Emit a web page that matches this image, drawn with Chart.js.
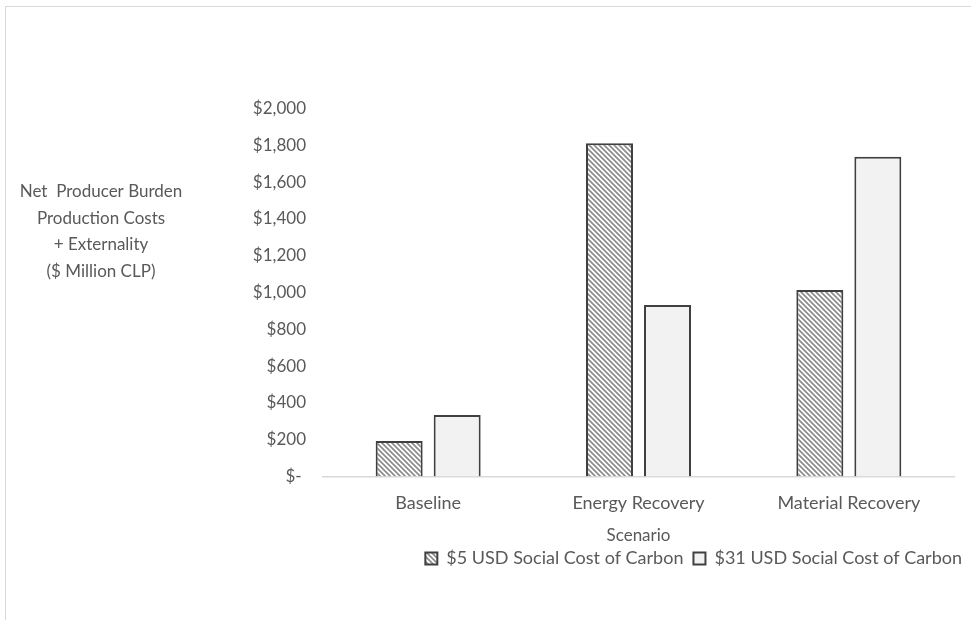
<!DOCTYPE html>
<html>
<head>
<meta charset="utf-8">
<script src="https://cdn.jsdelivr.net/npm/chart.js@4.4.0/dist/chart.umd.min.js"></script>
<style>
  html, body { margin: 0; padding: 0; background: #fff; overflow: hidden; }
  #frame { position: absolute; left: 5px; top: 6px; width: 1000px; height: 700px; border: 1px solid #d9d9d9; }
  #chart { position: absolute; left: 0; top: 0; }
</style>
</head>
<body>
<div id="frame"><canvas id="chart" width="966" height="614"></canvas></div>
<script>
// scenarios and the two carbon-price series ($ million CLP)
const scenarios = ['Baseline', 'Energy Recovery', 'Material Recovery'];
const seriesNames = ['$5 USD Social Cost of Carbon', '$31 USD Social Cost of Carbon'];
const cost5 = [193, 1811, 1014];
const cost31 = [334, 932, 1738];

const tickValues = [0, 200, 400, 600, 800, 1000, 1200, 1400, 1600, 1800, 2000];
const tickLabels = ['$- ', '$200', '$400', '$600', '$800', '$1,000', '$1,200', '$1,400', '$1,600', '$1,800', '$2,000'];
const yTitleLines = ['Net  Producer Burden', 'Production Costs', '+ Externality', '($ Million CLP)'];

Chart.defaults.font.family = 'Lato';
Chart.defaults.font.size = 17;
Chart.defaults.color = '#595959';

// diagonal hatch fill for the $5 series
function hatch() {
  const n = 5;
  const c = document.createElement('canvas');
  c.width = n; c.height = n;
  const g = c.getContext('2d');
  g.fillStyle = '#ffffff';
  g.fillRect(0, 0, n, n);
  g.strokeStyle = '#8c8c8c';
  g.lineWidth = 1.7;
  g.beginPath();
  g.moveTo(-1, -1); g.lineTo(n + 1, n + 1);
  g.moveTo(-1, n - 1); g.lineTo(1, n + 1);
  g.moveTo(n - 1, -1); g.lineTo(n + 1, 1);
  g.stroke();
  return g.createPattern(c, 'repeat');
}

// horizontal multi-line y title on the left
const sideTitle = {
  id: 'sideTitle',
  afterDraw(chart) {
    const ctx = chart.ctx;
    ctx.save();
    ctx.font = '17px Lato';
    ctx.fillStyle = '#595959';
    ctx.textAlign = 'center';
    ctx.textBaseline = 'middle';
    yTitleLines.forEach((t, i) => ctx.fillText(t, 95, 185 + i * 26.5));
    ctx.restore();
  }
};

const ctx = document.getElementById('chart').getContext('2d');
new Chart(ctx, {
  type: 'bar',
  data: {
    labels: scenarios,
    datasets: [
      { label: seriesNames[0], data: cost5, backgroundColor: hatch(), borderColor: '#404040', borderWidth: 2, borderSkipped: 'start', yAxisID: 'y' },
      { label: seriesNames[1], data: cost31, backgroundColor: '#f2f2f2', borderColor: '#404040', borderWidth: 2, borderSkipped: 'start', yAxisID: 'y' }
    ]
  },
  options: {
    responsive: false,
    animation: false,
    categoryPercentage: 0.5516,
    barPercentage: 0.81,
    layout: { padding: { top: 101.5, left: 0, right: 0, bottom: 43.5 } },
    plugins: {
      tooltip: { enabled: false },
      legend: {
        position: 'bottom',
        align: 'end',
        labels: { boxWidth: 12, boxHeight: 12, padding: 10, color: '#595959', font: { size: 18 } }
      }
    },
    scales: {
      x: {
        grid: { display: false, drawTicks: false },
        border: { display: true, color: '#d9d9d9', width: 1.5 },
        ticks: { padding: 16, maxRotation: 0, font: { size: 18 } },
        title: { display: true, text: 'Scenario', padding: { top: 0, bottom: -6 } },
        afterFit: s => { s.height = 63; }
      },
      y: {
        min: 0,
        max: 2000,
        grid: { display: false, drawTicks: false },
        border: { display: false },
        afterBuildTicks: s => { s.ticks = tickValues.map(v => ({ value: v })); },
        ticks: { padding: 17, callback: (v, i) => tickLabels[i] },
        afterFit: s => { s.width = 317; }
      },
      // empty right-hand spacer so the legend can run past the plot edge
      pad: {
        type: 'linear',
        position: 'right',
        grid: { display: false, drawTicks: false },
        border: { display: false },
        ticks: { display: false },
        afterFit: s => { s.width = 18; }
      }
    }
  },
  plugins: [sideTitle]
});
</script>
</body>
</html>
